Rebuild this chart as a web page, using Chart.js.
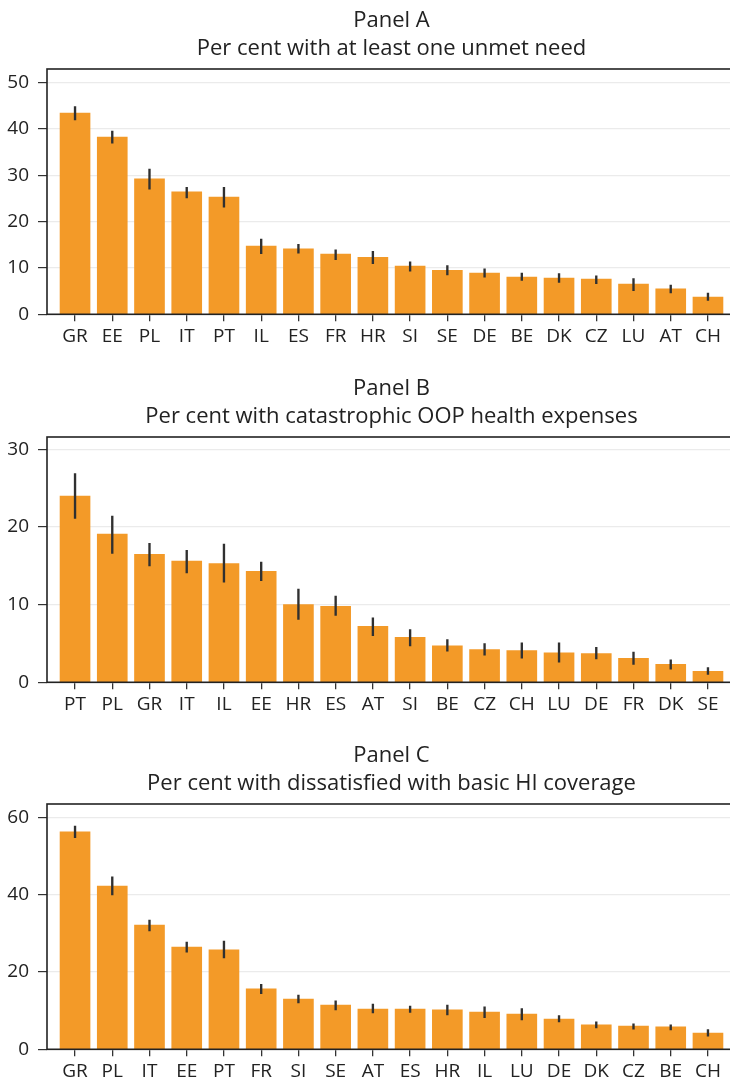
<!DOCTYPE html>
<html lang="en">
<head>
    <meta charset="UTF-8">
    <title>Unmet need, catastrophic OOP expenses, dissatisfaction</title>
    <script src="https://cdn.jsdelivr.net/npm/chart.js"></script>
    <style>
        html, body { margin: 0; padding: 0; background: #fff; width: 730px; height: 1088px; overflow: hidden; }
        .panel { position: absolute; left: 0; }
    </style>
</head>
<body>
<div class="panel" style="top:0px"><canvas id="chartA" width="736" height="368"></canvas></div>
<div class="panel" style="top:367.7px"><canvas id="chartB" width="736" height="368"></canvas></div>
<div class="panel" style="top:735px"><canvas id="chartC" width="736" height="353"></canvas></div>

<script>
    // Panel A
    const labelsA = ['GR', 'EE', 'PL', 'IT', 'PT', 'IL', 'ES', 'FR', 'HR', 'SI', 'SE', 'DE', 'BE', 'DK', 'CZ', 'LU', 'AT', 'CH'];
    const valuesA = [43.4, 38.2, 29.2, 26.4, 25.3, 14.7, 14.1, 13.0, 12.3, 10.4, 9.5, 8.9, 8.0, 7.8, 7.6, 6.5, 5.5, 3.7];
    const lowA = [41.9, 36.9, 27.0, 25.1, 23.1, 13.1, 13.2, 11.8, 10.9, 9.3, 8.5, 8.0, 7.3, 6.9, 6.6, 5.1, 4.6, 3.0];
    const highA = [44.8, 39.5, 31.3, 27.4, 27.4, 16.2, 15.1, 13.9, 13.6, 11.3, 10.5, 9.8, 8.9, 8.8, 8.3, 7.7, 6.3, 4.6];
    const ticksA = [0, 10, 20, 30, 40, 50];
    const maxA = 52.9;

    // Panel B
    const labelsB = ['PT', 'PL', 'GR', 'IT', 'IL', 'EE', 'HR', 'ES', 'AT', 'SI', 'BE', 'CZ', 'CH', 'LU', 'DE', 'FR', 'DK', 'SE'];
    const valuesB = [24.0, 19.1, 16.5, 15.6, 15.3, 14.3, 10.0, 9.8, 7.2, 5.8, 4.7, 4.2, 4.1, 3.8, 3.7, 3.1, 2.3, 1.4];
    const lowB = [21.1, 16.6, 15.0, 14.1, 12.9, 13.1, 8.1, 8.6, 6.0, 4.7, 4.0, 3.5, 3.1, 2.6, 3.0, 2.3, 1.7, 1.0];
    const highB = [26.9, 21.4, 17.9, 17.0, 17.8, 15.5, 12.0, 11.1, 8.3, 6.8, 5.5, 5.0, 5.1, 5.1, 4.5, 3.9, 2.9, 1.9];
    const ticksB = [0, 10, 20, 30];
    const maxB = 31.6;

    // Panel C
    const labelsC = ['GR', 'PL', 'IT', 'EE', 'PT', 'FR', 'SI', 'SE', 'AT', 'ES', 'HR', 'IL', 'LU', 'DE', 'DK', 'CZ', 'BE', 'CH'];
    const valuesC = [56.2, 42.2, 32.1, 26.4, 25.7, 15.6, 13.0, 11.4, 10.4, 10.4, 10.2, 9.6, 9.1, 7.8, 6.3, 6.0, 5.8, 4.2];
    const lowC = [54.7, 39.9, 30.6, 25.1, 23.6, 14.4, 12.0, 10.2, 9.4, 9.5, 8.9, 8.2, 7.6, 7.1, 5.5, 5.2, 5.0, 3.4];
    const highC = [57.7, 44.6, 33.4, 27.7, 28.0, 16.8, 14.0, 12.5, 11.7, 11.2, 11.4, 11.0, 10.5, 8.7, 7.1, 6.6, 6.3, 5.1];
    const ticksC = [0, 20, 40, 60];
    const maxC = 63.4;

    const barColor = '#f39a28';
    const textColor = '#222';
    const fontFamily = '"Open Sans", "Noto Sans", sans-serif';

    // box around the plot area
    const frame = {
        id: 'frame',
        afterDatasetsDraw(chart) {
            const a = chart.chartArea;
            const ctx = chart.ctx;
            ctx.save();
            ctx.strokeStyle = '#222';
            ctx.lineWidth = 1.6;
            ctx.strokeRect(a.left, a.top, a.right - a.left, a.bottom - a.top);
            ctx.restore();
        }
    };

    function makePanel(id, labels, values, low, high, yTicks, yMax, title, subtitle) {
        const canvas = document.getElementById(id);
        const plotH = 245.3;
        const xAxisH = canvas.height - 69 - plotH;

        new Chart(canvas.getContext('2d'), {
            type: 'bar',
            data: {
                datasets: [
                    {
                        data: labels.map((l, i) => ({x: i, y: [low[i], high[i]]})),
                        backgroundColor: '#303030',
                        barThickness: 1.7,
                        grouped: false,
                        order: 0
                    },
                    {
                        data: labels.map((l, i) => ({x: i, y: values[i]})),
                        backgroundColor: barColor,
                        barThickness: 30,
                        grouped: false,
                        order: 1
                    }
                ]
            },
            options: {
                responsive: false,
                animation: false,
                layout: {padding: 0},
                plugins: {
                    legend: {display: false},
                    tooltip: {enabled: false},
                    title: {
                        display: true,
                        fullSize: false,
                        text: title,
                        color: textColor,
                        font: {family: fontFamily, size: 22, weight: 'normal', lineHeight: 1.2},
                        padding: {top: 7.3, bottom: 0}
                    },
                    subtitle: {
                        display: true,
                        fullSize: false,
                        text: subtitle,
                        color: textColor,
                        font: {family: fontFamily, size: 22, weight: 'normal', lineHeight: 1.2},
                        padding: {top: 2.1, bottom: 6.8}
                    }
                },
                scales: {
                    x: {
                        type: 'linear',
                        offset: false,
                        min: -0.753,
                        max: labels.length - 1 + 0.753,
                        afterBuildTicks: s => { s.ticks = labels.map((l, i) => ({value: i})); },
                        afterFit: s => { s.height = xAxisH; },
                        ticks: {
                            autoSkip: false,
                            maxRotation: 0,
                            padding: 4,
                            color: textColor,
                            font: {family: fontFamily, size: 19},
                            callback: v => labels[v]
                        },
                        grid: {display: true, offset: false, drawOnChartArea: false, drawTicks: true, tickLength: 7, tickColor: '#333', lineWidth: 1.3},
                        border: {display: false}
                    },
                    y: {
                        min: 0,
                        max: yMax,
                        afterBuildTicks: s => { s.ticks = yTicks.map(v => ({value: v})); },
                        afterFit: s => { s.width = 47; },
                        ticks: {
                            padding: 9,
                            color: textColor,
                            font: {family: fontFamily, size: 19}
                        },
                        grid: {color: '#ebebeb', lineWidth: 1.2, tickLength: 9, tickColor: '#333'},
                        border: {display: false}
                    }
                }
            },
            plugins: [frame]
        });
    }

    makePanel('chartA', labelsA, valuesA, lowA, highA, ticksA, maxA, 'Panel A', 'Per cent with at least one unmet need');
    makePanel('chartB', labelsB, valuesB, lowB, highB, ticksB, maxB, 'Panel B', 'Per cent with catastrophic OOP health expenses');
    makePanel('chartC', labelsC, valuesC, lowC, highC, ticksC, maxC, 'Panel C', 'Per cent with dissatisfied with basic HI coverage');
</script>
</body>
</html>
